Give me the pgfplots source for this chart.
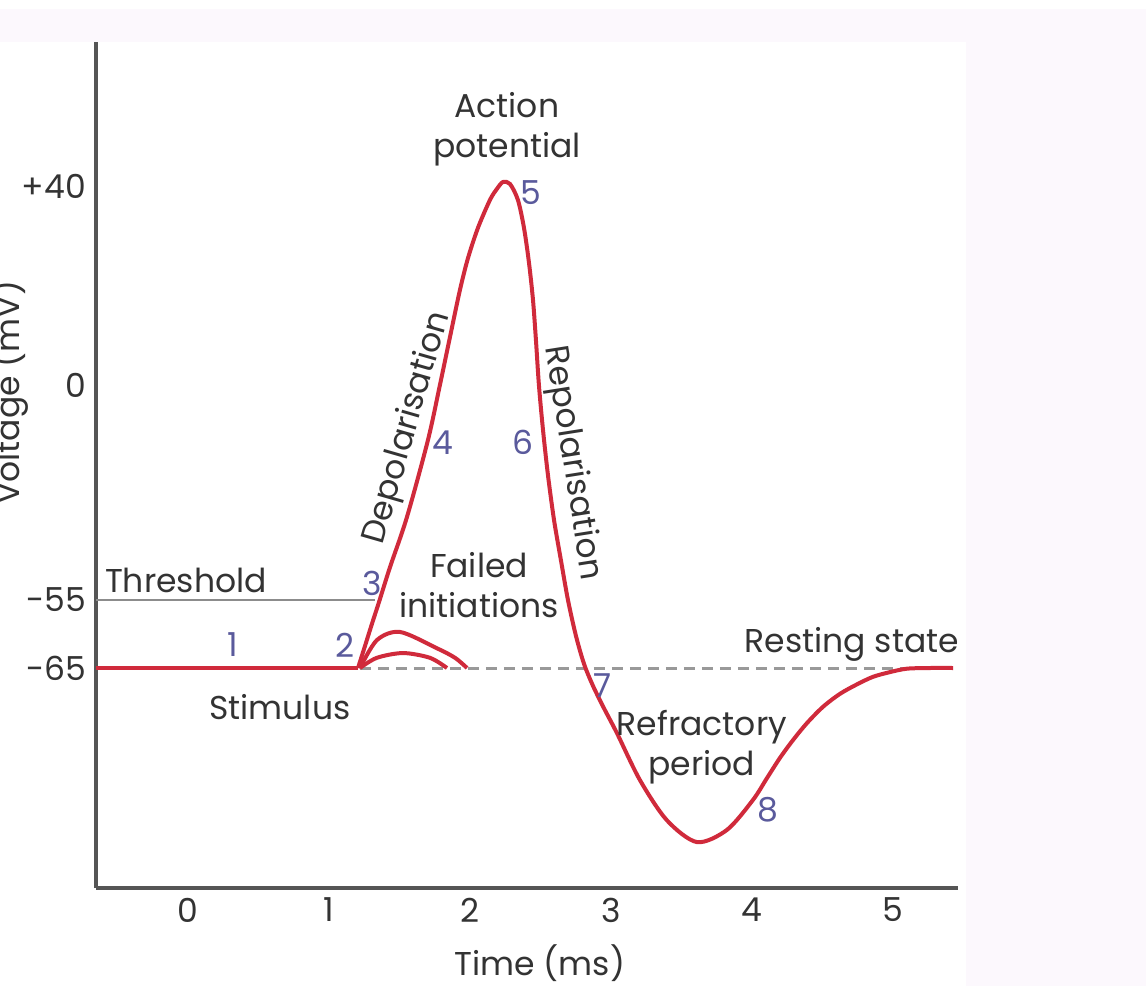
\documentclass[border=0pt]{standalone}
\usepackage{fontspec}
\setmainfont{Poppins}
\usepackage{pgfplots}
\pgfplotsset{compat=1.18}

\definecolor{apred}{HTML}{D02A3B}
\definecolor{numblue}{HTML}{5A5A9C}
\definecolor{txt}{HTML}{333333}
\definecolor{lav}{HTML}{FCF8FD}
\definecolor{axgray}{HTML}{555555}

\tikzset{
  ann/.style={font=\fontsize{16.5}{20}\selectfont, text=txt},
  num/.style={font=\fontsize{16.5}{20}\selectfont, text=numblue},
}

\begin{document}
\begin{tikzpicture}
% page background: lavender frame, white panel
\fill[lav] (0pt,0pt) rectangle (573pt,488.5pt);
\fill[white] (0pt,0pt) rectangle (483pt,472pt);

\begin{axis}[
  at={(48pt,49pt)}, anchor=south west,
  scale only axis, width=431pt, height=423pt,
  xmin=-0.652, xmax=5.461,
  ymin=-97.35, ymax=68.94,
  % schematic voltage scale: piecewise linear in mV
  y coord trafo/.code={\pgfmathparse{(#1)>=0 ? 503+4.975*(#1) : ((#1)>=-55 ? 503+3.909*(#1) : 288+6.8*((#1)+55))}},
  axis lines*=left,
  axis line style={draw=axgray, line width=1.6pt},
  xtick={0,1,2,3,4,5}, xticklabels={0,1,2,3,4,5},
  ytick={-65,-55,0,40}, yticklabels={-65,-55,0,+40},
  major tick length=0pt,
  tick label style={font=\fontsize{16.5}{20}\selectfont, text=txt},
  xticklabel style={yshift=-1.5pt},
  yticklabel style={xshift=-1.5pt},
  clip=false,
]

% resting level and threshold
\addplot[gray!80, line width=1.5pt, dash pattern=on 5.5pt off 3.5pt] coordinates {(1.22,-65) (5.426,-65)};
\addplot[gray!90, line width=0.8pt] coordinates {(-0.652,-55) (1.326,-55)};

% failed initiations
\addplot[apred, line width=2pt, smooth] coordinates {
  (1.220,-65) (1.340,-60.9) (1.504,-59.7) (1.766,-62.1) (1.894,-63.5) (1.979,-65)};
\addplot[apred, line width=2pt, smooth] coordinates {
  (1.220,-65) (1.340,-63.5) (1.525,-62.8) (1.716,-63.5) (1.837,-65)};

% action potential
\addplot[apred, line width=2pt] coordinates {(-0.652,-65) (1.206,-65)};
\addplot[apred, line width=2pt, smooth, line join=round] coordinates {
  (1.206,-65) (1.255,-61.8) (1.305,-58.5) (1.355,-55.3) (1.433,-46.6)
  (1.553,-33.8) (1.702,-14.1) (1.787,0) (1.858,9.6) (1.929,19.1)
  (1.986,25.5) (2.057,31.6) (2.142,37.2) (2.191,39.4) (2.234,40.8)
  (2.284,40.4) (2.340,37.2) (2.383,31.6) (2.418,24.7) (2.447,17.1)
  (2.468,9.0) (2.489,0) (2.518,-11.5) (2.553,-23.0) (2.596,-34.5)
  (2.645,-44.8) (2.695,-55) (2.752,-60.3) (2.809,-64.4) (2.872,-67.6)
  (2.950,-70.9) (3.043,-74.6) (3.206,-81.5) (3.397,-87.4) (3.610,-90.6)
  (3.823,-88.8) (4.007,-84.4) (4.106,-81.2) (4.199,-78.2) (4.291,-75.6)
  (4.390,-73.1) (4.504,-70.7) (4.624,-68.8) (4.745,-67.4) (4.858,-66.3)
  (4.979,-65.6) (5.099,-65.1) (5.262,-65) (5.426,-65)};

% annotations
\node[ann, align=center] at (axis cs:2.262,51.4) {Action\\potential};
\node[ann, rotate=74] at (axis cs:1.560,-11.0) {Depolarisation};
\node[ann, rotate=-81] at (axis cs:2.723,-20.0) {Repolarisation};
\node[ann] at (axis cs:-0.014,-50.1) {Threshold};
\node[ann] at (axis cs:0.652,-70.7) {Stimulus};
\node[ann, align=center] at (axis cs:2.064,-51.2) {Failed\\initiations};
\node[ann, align=center] at (axis cs:3.645,-76.6) {Refractory\\period};
\node[ann, anchor=east] at (axis cs:5.518,-61.6) {Resting state};
\node[num] at (axis cs:0.319,-61.6) {1};
\node[num] at (axis cs:1.113,-61.6) {2};
\node[num] at (axis cs:1.305,-50.7) {3};
\node[num] at (axis cs:1.809,-14.8) {4};
\node[num] at (axis cs:2.433,38.6) {5};
\node[num] at (axis cs:2.376,-14.8) {6};
\node[num] at (axis cs:2.943,-67.6) {7};
\node[num] at (axis cs:4.113,-85.9) {8};
\node[ann] at (axis cs:2.496,-108.4) {Time (ms)};
\node[ann, rotate=90] at (axis cs:-1.27,-2.0) {Voltage (mV)};
\end{axis}

% right lavender strip, drawn last so it trims the text
\fill[lav] (483pt,0pt) rectangle (573pt,488.5pt);
\pgfresetboundingbox
\path (0pt,0pt) rectangle (573pt,493pt);
\end{tikzpicture}
\end{document}
